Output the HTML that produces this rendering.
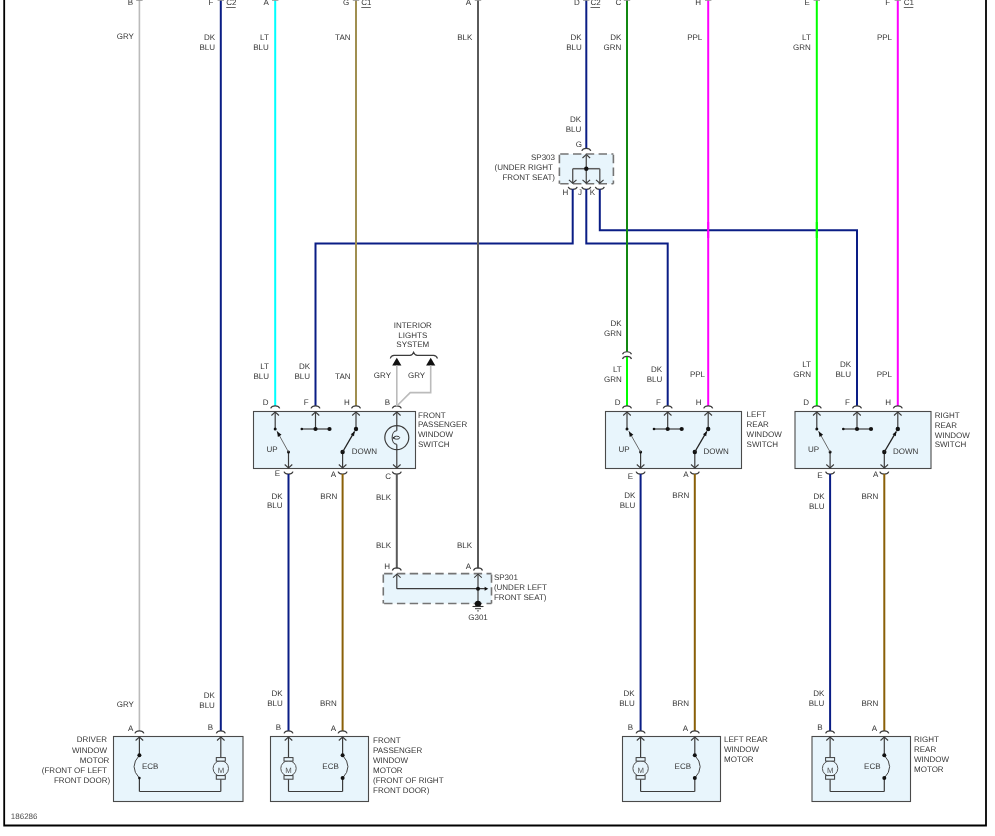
<!DOCTYPE html>
<html><head><meta charset="utf-8"><style>
html,body{margin:0;padding:0;background:#fff;width:995px;height:836px;overflow:hidden}
svg{display:block;will-change:transform}
text{font-family:"Liberation Sans",sans-serif;text-rendering:geometricPrecision}
</style></head><body>
<svg width="995" height="836" viewBox="0 0 995 836" font-family="Liberation Sans, sans-serif">
<rect width="995" height="836" fill="#fff"/>
<path d="M4.2,-2 L4.2,825.5 L986.0,825.5 L986.0,-2" stroke="#000" stroke-width="1.8" fill="none"/>
<path d="M139.4,0.5 L139.4,731" stroke="#bbbbbb" stroke-width="1.6" fill="none"/>
<path d="M220.8,0.5 L220.8,731" stroke="#0a1d85" stroke-width="2" fill="none"/>
<path d="M275.2,0.5 L275.2,406" stroke="#00ffff" stroke-width="2" fill="none"/>
<path d="M356,0.5 L356,406" stroke="#a08f50" stroke-width="2" fill="none"/>
<path d="M478,0.5 L478,568.5" stroke="#5a5a5a" stroke-width="2" fill="none"/>
<path d="M586.3,0.5 L586.3,149" stroke="#0a1d85" stroke-width="2" fill="none"/>
<path d="M627,0.5 L627,351.8" stroke="#118811" stroke-width="2" fill="none"/>
<path d="M627,356.5 L627,406" stroke="#00ff00" stroke-width="2" fill="none"/>
<path d="M708.2,0.5 L708.2,406" stroke="#ff00ff" stroke-width="2" fill="none"/>
<path d="M816.8,0.5 L816.8,406" stroke="#00ff00" stroke-width="2" fill="none"/>
<path d="M897.8,0.5 L897.8,406" stroke="#ff00ff" stroke-width="2" fill="none"/>
<path d="M136.2,0.4 L142.6,0.4" stroke="#707070" stroke-width="0.9" fill="none" opacity="0.75"/>
<path d="M217.6,0.4 L224,0.4" stroke="#707070" stroke-width="0.9" fill="none" opacity="0.75"/>
<path d="M272,0.4 L278.4,0.4" stroke="#707070" stroke-width="0.9" fill="none" opacity="0.75"/>
<path d="M352.8,0.4 L359.2,0.4" stroke="#707070" stroke-width="0.9" fill="none" opacity="0.75"/>
<path d="M474.8,0.4 L481.2,0.4" stroke="#707070" stroke-width="0.9" fill="none" opacity="0.75"/>
<path d="M583.1,0.4 L589.5,0.4" stroke="#707070" stroke-width="0.9" fill="none" opacity="0.75"/>
<path d="M623.8,0.4 L630.2,0.4" stroke="#707070" stroke-width="0.9" fill="none" opacity="0.75"/>
<path d="M705,0.4 L711.4,0.4" stroke="#707070" stroke-width="0.9" fill="none" opacity="0.75"/>
<path d="M813.6,0.4 L820,0.4" stroke="#707070" stroke-width="0.9" fill="none" opacity="0.75"/>
<path d="M894.6,0.4 L901,0.4" stroke="#707070" stroke-width="0.9" fill="none" opacity="0.75"/>
<text x="133" y="4.7" text-anchor="end" font-size="8" fill="#363636">B</text>
<text x="213.5" y="4.7" text-anchor="end" font-size="8" fill="#363636">F</text>
<text x="268.8" y="4.7" text-anchor="end" font-size="8" fill="#363636">A</text>
<text x="349.2" y="4.7" text-anchor="end" font-size="8" fill="#363636">G</text>
<text x="471.1" y="4.7" text-anchor="end" font-size="8" fill="#363636">A</text>
<text x="579.9" y="4.7" text-anchor="end" font-size="8" fill="#363636">D</text>
<text x="621.4" y="4.7" text-anchor="end" font-size="8" fill="#363636">C</text>
<text x="701" y="4.7" text-anchor="end" font-size="8" fill="#363636">H</text>
<text x="809.8" y="4.7" text-anchor="end" font-size="8" fill="#363636">E</text>
<text x="890.2" y="4.7" text-anchor="end" font-size="8" fill="#363636">F</text>
<text x="226.2" y="4.7" text-anchor="start" font-size="8" fill="#363636">C2</text>
<line x1="226.2" y1="7.5" x2="235.7" y2="7.5" stroke="#555" stroke-width="0.9"/>
<text x="361.3" y="4.7" text-anchor="start" font-size="8" fill="#363636">C1</text>
<line x1="361.3" y1="7.5" x2="370.8" y2="7.5" stroke="#555" stroke-width="0.9"/>
<text x="590.5" y="4.7" text-anchor="start" font-size="8" fill="#363636">C2</text>
<line x1="590.5" y1="7.5" x2="600" y2="7.5" stroke="#555" stroke-width="0.9"/>
<text x="903.8" y="4.7" text-anchor="start" font-size="8" fill="#363636">C1</text>
<line x1="903.8" y1="7.5" x2="913.3" y2="7.5" stroke="#555" stroke-width="0.9"/>
<text x="133.9" y="39" text-anchor="end" font-size="8" fill="#363636">GRY</text>
<text x="215" y="40" text-anchor="end" font-size="8" fill="#363636">DK</text>
<text x="215" y="50" text-anchor="end" font-size="8" fill="#363636">BLU</text>
<text x="268.8" y="40" text-anchor="end" font-size="8" fill="#363636">LT</text>
<text x="268.8" y="50" text-anchor="end" font-size="8" fill="#363636">BLU</text>
<text x="350.5" y="40" text-anchor="end" font-size="8" fill="#363636">TAN</text>
<text x="472.4" y="40" text-anchor="end" font-size="8" fill="#363636">BLK</text>
<text x="581.7" y="40" text-anchor="end" font-size="8" fill="#363636">DK</text>
<text x="581.7" y="50" text-anchor="end" font-size="8" fill="#363636">BLU</text>
<text x="621.4" y="40" text-anchor="end" font-size="8" fill="#363636">DK</text>
<text x="621.4" y="50" text-anchor="end" font-size="8" fill="#363636">GRN</text>
<text x="702.3" y="40" text-anchor="end" font-size="8" fill="#363636">PPL</text>
<text x="810.8" y="40" text-anchor="end" font-size="8" fill="#363636">LT</text>
<text x="810.8" y="50" text-anchor="end" font-size="8" fill="#363636">GRN</text>
<text x="892" y="40" text-anchor="end" font-size="8" fill="#363636">PPL</text>
<text x="581.2" y="122.2" text-anchor="end" font-size="8" fill="#363636">DK</text>
<text x="581.2" y="132" text-anchor="end" font-size="8" fill="#363636">BLU</text>
<text x="582" y="146.5" text-anchor="end" font-size="8" fill="#363636">G</text>
<rect x="559.4" y="154" width="54" height="29.8" fill="#e8f5fc"/>
<line x1="559.4" y1="154" x2="613.4" y2="154" stroke="#747474" stroke-width="1.6" stroke-dasharray="8.4,4.4" stroke-dashoffset="-0.8"/>
<line x1="559.4" y1="183.8" x2="613.4" y2="183.8" stroke="#747474" stroke-width="1.6" stroke-dasharray="8.4,4.4" stroke-dashoffset="-0.8"/>
<line x1="559.4" y1="154" x2="559.4" y2="183.8" stroke="#747474" stroke-width="1.6" stroke-dasharray="8.4,4.4" stroke-dashoffset="-0.8"/>
<line x1="613.4" y1="154" x2="613.4" y2="183.8" stroke="#747474" stroke-width="1.6" stroke-dasharray="8.4,4.4" stroke-dashoffset="-0.8"/>
<path d="M581.8,150.9 C582.9,147.5 589.7,147.5 590.8,150.9" stroke="#3c3c3c" stroke-width="1.2" fill="none"/>
<path d="M582.5,158 L586.3,154.6 L590.1,158" stroke="#3c3c3c" stroke-width="1.1" fill="none"/>
<line x1="586.3" y1="154.6" x2="586.3" y2="168.7" stroke="#5c5c5c" stroke-width="1.4"/>
<line x1="572.7" y1="168.7" x2="599.8" y2="168.7" stroke="#5c5c5c" stroke-width="1.5"/>
<line x1="572.7" y1="168.7" x2="572.7" y2="183.2" stroke="#5c5c5c" stroke-width="1.4"/>
<line x1="599.8" y1="168.7" x2="599.8" y2="183.2" stroke="#5c5c5c" stroke-width="1.4"/>
<line x1="586.3" y1="168.7" x2="586.3" y2="183.2" stroke="#5c5c5c" stroke-width="1.4"/>
<circle cx="586.3" cy="168.7" r="2.2" fill="#111"/>
<path d="M568.9,179.8 L572.7,183.2 L576.5,179.8" stroke="#3c3c3c" stroke-width="1.1" fill="none"/>
<path d="M568.2,186.9 C569.3,190.3 576.1,190.3 577.2,186.9" stroke="#3c3c3c" stroke-width="1.2" fill="none"/>
<path d="M582.5,179.8 L586.3,183.2 L590.1,179.8" stroke="#3c3c3c" stroke-width="1.1" fill="none"/>
<path d="M581.8,186.9 C582.9,190.3 589.7,190.3 590.8,186.9" stroke="#3c3c3c" stroke-width="1.2" fill="none"/>
<path d="M596,179.8 L599.8,183.2 L603.6,179.8" stroke="#3c3c3c" stroke-width="1.1" fill="none"/>
<path d="M595.3,186.9 C596.4,190.3 603.2,190.3 604.3,186.9" stroke="#3c3c3c" stroke-width="1.2" fill="none"/>
<text x="555" y="160" text-anchor="end" font-size="8" fill="#363636">SP303</text>
<text x="552.8" y="170" text-anchor="end" font-size="8" fill="#363636">(UNDER RIGHT</text>
<text x="555" y="180" text-anchor="end" font-size="8" fill="#363636">FRONT SEAT)</text>
<text x="568.2" y="195" text-anchor="end" font-size="8" fill="#363636">H</text>
<text x="582" y="195.3" text-anchor="end" font-size="8" fill="#363636">J</text>
<text x="595.2" y="194.7" text-anchor="end" font-size="8" fill="#363636">K</text>
<path d="M572.7,189.3 L572.7,243.5 L315.5,243.5 L315.5,406" stroke="#0a1d85" stroke-width="2" fill="none"/>
<path d="M586.3,189.3 L586.3,243.5 L667.7,243.5 L667.7,406" stroke="#0a1d85" stroke-width="2" fill="none"/>
<path d="M599.8,189.3 L599.8,230.2 L857,230.2 L857,406" stroke="#0a1d85" stroke-width="2" fill="none"/>
<path d="M356,236 L356,251" stroke="#a08f50" stroke-width="2" fill="none"/>
<path d="M478,236 L478,251" stroke="#5a5a5a" stroke-width="2" fill="none"/>
<path d="M627,222 L627,251" stroke="#118811" stroke-width="2" fill="none"/>
<path d="M708.2,222 L708.2,238" stroke="#ff00ff" stroke-width="2" fill="none"/>
<path d="M816.8,222 L816.8,238" stroke="#00ff00" stroke-width="2" fill="none"/>
<path d="M622.5,354.3 C623.6,350.9 630.4,350.9 631.5,354.3" stroke="#3c3c3c" stroke-width="1.2" fill="none"/>
<path d="M622.5,359 C623.6,355.6 630.4,355.6 631.5,359" stroke="#3c3c3c" stroke-width="1.2" fill="none"/>
<text x="621.7" y="326" text-anchor="end" font-size="8" fill="#363636">DK</text>
<text x="621.7" y="335.8" text-anchor="end" font-size="8" fill="#363636">GRN</text>
<rect x="253.5" y="411.5" width="162" height="57" fill="#e8f5fc" stroke="#4a4a4a" stroke-width="1.1"/>
<path d="M270.7,408.4 C271.8,405 278.6,405 279.7,408.4" stroke="#3c3c3c" stroke-width="1.2" fill="none"/>
<path d="M271.4,415.5 L275.2,412.1 L279,415.5" stroke="#3c3c3c" stroke-width="1.1" fill="none"/>
<path d="M311,408.4 C312.1,405 318.9,405 320,408.4" stroke="#3c3c3c" stroke-width="1.2" fill="none"/>
<path d="M311.7,415.5 L315.5,412.1 L319.3,415.5" stroke="#3c3c3c" stroke-width="1.1" fill="none"/>
<path d="M351.5,408.4 C352.6,405 359.4,405 360.5,408.4" stroke="#3c3c3c" stroke-width="1.2" fill="none"/>
<path d="M352.2,415.5 L356,412.1 L359.8,415.5" stroke="#3c3c3c" stroke-width="1.1" fill="none"/>
<path d="M392.3,408.4 C393.4,405 400.2,405 401.3,408.4" stroke="#3c3c3c" stroke-width="1.2" fill="none"/>
<path d="M393,415.5 L396.8,412.1 L400.6,415.5" stroke="#3c3c3c" stroke-width="1.1" fill="none"/>
<path d="M284,471.6 C285.1,475 291.9,475 293,471.6" stroke="#3c3c3c" stroke-width="1.2" fill="none"/>
<path d="M284.7,464.5 L288.5,467.9 L292.3,464.5" stroke="#3c3c3c" stroke-width="1.1" fill="none"/>
<path d="M338.1,471.6 C339.2,475 346,475 347.1,471.6" stroke="#3c3c3c" stroke-width="1.2" fill="none"/>
<path d="M338.8,464.5 L342.6,467.9 L346.4,464.5" stroke="#3c3c3c" stroke-width="1.1" fill="none"/>
<path d="M392.3,471.6 C393.4,475 400.2,475 401.3,471.6" stroke="#3c3c3c" stroke-width="1.2" fill="none"/>
<path d="M393,464.5 L396.8,467.9 L400.6,464.5" stroke="#3c3c3c" stroke-width="1.1" fill="none"/>
<line x1="275.2" y1="412.1" x2="275.2" y2="429" stroke="#3c3c3c" stroke-width="1.2"/>
<circle cx="275.2" cy="429" r="1.5" fill="#111"/>
<line x1="288.5" y1="452" x2="288.5" y2="467.9" stroke="#3c3c3c" stroke-width="1.2"/>
<circle cx="288.5" cy="452" r="1.5" fill="#111"/>
<line x1="288.5" y1="452" x2="277" y2="431.25" stroke="#5a5a5a" stroke-width="0.9"/>
<path d="M277,431.25 L281.52,434.87 L277.89,436.98 Z" fill="#111"/>
<line x1="315.5" y1="412.1" x2="315.5" y2="429" stroke="#3c3c3c" stroke-width="1.2"/>
<line x1="301.8" y1="429" x2="329.5" y2="429" stroke="#3c3c3c" stroke-width="1.2"/>
<circle cx="301.8" cy="429" r="1.3" fill="#111"/>
<circle cx="315.5" cy="429" r="2.1" fill="#111"/>
<circle cx="329.5" cy="429" r="2.1" fill="#111"/>
<line x1="356" y1="412.1" x2="356" y2="429" stroke="#3c3c3c" stroke-width="1.2"/>
<circle cx="356" cy="429" r="2.2" fill="#111"/>
<line x1="342.6" y1="452" x2="342.6" y2="467.9" stroke="#3c3c3c" stroke-width="1.2"/>
<circle cx="342.6" cy="452" r="2.2" fill="#111"/>
<line x1="342.6" y1="452" x2="354.59" y2="431.42" stroke="#222" stroke-width="1.3"/>
<path d="M354.59,431.42 L354.02,436.18 L350.73,434.26 Z" fill="#111"/>
<rect x="605.5" y="411.5" width="136" height="57" fill="#e8f5fc" stroke="#4a4a4a" stroke-width="1.1"/>
<path d="M622.5,408.4 C623.6,405 630.4,405 631.5,408.4" stroke="#3c3c3c" stroke-width="1.2" fill="none"/>
<path d="M623.2,415.5 L627,412.1 L630.8,415.5" stroke="#3c3c3c" stroke-width="1.1" fill="none"/>
<path d="M663.2,408.4 C664.3,405 671.1,405 672.2,408.4" stroke="#3c3c3c" stroke-width="1.2" fill="none"/>
<path d="M663.9,415.5 L667.7,412.1 L671.5,415.5" stroke="#3c3c3c" stroke-width="1.1" fill="none"/>
<path d="M703.7,408.4 C704.8,405 711.6,405 712.7,408.4" stroke="#3c3c3c" stroke-width="1.2" fill="none"/>
<path d="M704.4,415.5 L708.2,412.1 L712,415.5" stroke="#3c3c3c" stroke-width="1.1" fill="none"/>
<path d="M636.1,471.6 C637.2,475 644,475 645.1,471.6" stroke="#3c3c3c" stroke-width="1.2" fill="none"/>
<path d="M636.8,464.5 L640.6,467.9 L644.4,464.5" stroke="#3c3c3c" stroke-width="1.1" fill="none"/>
<path d="M690.3,471.6 C691.4,475 698.2,475 699.3,471.6" stroke="#3c3c3c" stroke-width="1.2" fill="none"/>
<path d="M691,464.5 L694.8,467.9 L698.6,464.5" stroke="#3c3c3c" stroke-width="1.1" fill="none"/>
<line x1="627" y1="412.1" x2="627" y2="429" stroke="#3c3c3c" stroke-width="1.2"/>
<circle cx="627" cy="429" r="1.5" fill="#111"/>
<line x1="640.6" y1="452" x2="640.6" y2="467.9" stroke="#3c3c3c" stroke-width="1.2"/>
<circle cx="640.6" cy="452" r="1.5" fill="#111"/>
<line x1="640.6" y1="452" x2="628.82" y2="431.24" stroke="#5a5a5a" stroke-width="0.9"/>
<path d="M628.82,431.24 L633.38,434.82 L629.76,436.96 Z" fill="#111"/>
<line x1="667.7" y1="412.1" x2="667.7" y2="429" stroke="#3c3c3c" stroke-width="1.2"/>
<line x1="654" y1="429" x2="681.7" y2="429" stroke="#3c3c3c" stroke-width="1.2"/>
<circle cx="654" cy="429" r="1.3" fill="#111"/>
<circle cx="667.7" cy="429" r="2.1" fill="#111"/>
<circle cx="681.7" cy="429" r="2.1" fill="#111"/>
<line x1="708.2" y1="412.1" x2="708.2" y2="429" stroke="#3c3c3c" stroke-width="1.2"/>
<circle cx="708.2" cy="429" r="2.2" fill="#111"/>
<line x1="694.8" y1="452" x2="694.8" y2="467.9" stroke="#3c3c3c" stroke-width="1.2"/>
<circle cx="694.8" cy="452" r="2.2" fill="#111"/>
<line x1="694.8" y1="452" x2="706.79" y2="431.42" stroke="#222" stroke-width="1.3"/>
<path d="M706.79,431.42 L706.22,436.18 L702.93,434.26 Z" fill="#111"/>
<rect x="795" y="411.5" width="136" height="57" fill="#e8f5fc" stroke="#4a4a4a" stroke-width="1.1"/>
<path d="M812.3,408.4 C813.4,405 820.2,405 821.3,408.4" stroke="#3c3c3c" stroke-width="1.2" fill="none"/>
<path d="M813,415.5 L816.8,412.1 L820.6,415.5" stroke="#3c3c3c" stroke-width="1.1" fill="none"/>
<path d="M852.5,408.4 C853.6,405 860.4,405 861.5,408.4" stroke="#3c3c3c" stroke-width="1.2" fill="none"/>
<path d="M853.2,415.5 L857,412.1 L860.8,415.5" stroke="#3c3c3c" stroke-width="1.1" fill="none"/>
<path d="M893.3,408.4 C894.4,405 901.2,405 902.3,408.4" stroke="#3c3c3c" stroke-width="1.2" fill="none"/>
<path d="M894,415.5 L897.8,412.1 L901.6,415.5" stroke="#3c3c3c" stroke-width="1.1" fill="none"/>
<path d="M825.6,471.6 C826.7,475 833.5,475 834.6,471.6" stroke="#3c3c3c" stroke-width="1.2" fill="none"/>
<path d="M826.3,464.5 L830.1,467.9 L833.9,464.5" stroke="#3c3c3c" stroke-width="1.1" fill="none"/>
<path d="M879.8,471.6 C880.9,475 887.7,475 888.8,471.6" stroke="#3c3c3c" stroke-width="1.2" fill="none"/>
<path d="M880.5,464.5 L884.3,467.9 L888.1,464.5" stroke="#3c3c3c" stroke-width="1.1" fill="none"/>
<line x1="816.8" y1="412.1" x2="816.8" y2="429" stroke="#3c3c3c" stroke-width="1.2"/>
<circle cx="816.8" cy="429" r="1.5" fill="#111"/>
<line x1="830.1" y1="452" x2="830.1" y2="467.9" stroke="#3c3c3c" stroke-width="1.2"/>
<circle cx="830.1" cy="452" r="1.5" fill="#111"/>
<line x1="830.1" y1="452" x2="818.6" y2="431.25" stroke="#5a5a5a" stroke-width="0.9"/>
<path d="M818.6,431.25 L823.12,434.87 L819.49,436.98 Z" fill="#111"/>
<line x1="857" y1="412.1" x2="857" y2="429" stroke="#3c3c3c" stroke-width="1.2"/>
<line x1="843.3" y1="429" x2="871" y2="429" stroke="#3c3c3c" stroke-width="1.2"/>
<circle cx="843.3" cy="429" r="1.3" fill="#111"/>
<circle cx="857" cy="429" r="2.1" fill="#111"/>
<circle cx="871" cy="429" r="2.1" fill="#111"/>
<line x1="897.8" y1="412.1" x2="897.8" y2="429" stroke="#3c3c3c" stroke-width="1.2"/>
<circle cx="897.8" cy="429" r="2.2" fill="#111"/>
<line x1="884.3" y1="452" x2="884.3" y2="467.9" stroke="#3c3c3c" stroke-width="1.2"/>
<circle cx="884.3" cy="452" r="2.2" fill="#111"/>
<line x1="884.3" y1="452" x2="896.38" y2="431.41" stroke="#222" stroke-width="1.3"/>
<path d="M896.38,431.41 L895.79,436.17 L892.52,434.25 Z" fill="#111"/>
<line x1="396.8" y1="412" x2="396.8" y2="430.8" stroke="#3c3c3c" stroke-width="1.2"/>
<line x1="396.8" y1="444.4" x2="396.8" y2="467.4" stroke="#3c3c3c" stroke-width="1.2"/>
<circle cx="396.8" cy="437.6" r="12" fill="none" stroke="#3c3c3c" stroke-width="1.2"/>
<path d="M396.8,430.8 C390.6,430.8 390.6,444.4 396.8,444.4" stroke="#3c3c3c" stroke-width="1.1" fill="none"/>
<ellipse cx="396.7" cy="437.7" rx="3.0" ry="1.5" fill="none" stroke="#3c3c3c" stroke-width="1"/>
<circle cx="393.8" cy="437.8" r="0.9" fill="#111"/>
<text x="269" y="369" text-anchor="end" font-size="8" fill="#363636">LT</text>
<text x="269" y="379" text-anchor="end" font-size="8" fill="#363636">BLU</text>
<text x="310" y="369" text-anchor="end" font-size="8" fill="#363636">DK</text>
<text x="310" y="379" text-anchor="end" font-size="8" fill="#363636">BLU</text>
<text x="350.5" y="379" text-anchor="end" font-size="8" fill="#363636">TAN</text>
<text x="391" y="378" text-anchor="end" font-size="8" fill="#363636">GRY</text>
<text x="408" y="378" text-anchor="start" font-size="8" fill="#363636">GRY</text>
<text x="268.5" y="405" text-anchor="end" font-size="8" fill="#363636">D</text>
<text x="308.7" y="405" text-anchor="end" font-size="8" fill="#363636">F</text>
<text x="349.7" y="405" text-anchor="end" font-size="8" fill="#363636">H</text>
<text x="390" y="405" text-anchor="end" font-size="8" fill="#363636">B</text>
<text x="418" y="417.8" text-anchor="start" font-size="8" fill="#363636">FRONT</text>
<text x="418" y="427" text-anchor="start" font-size="8" fill="#363636">PASSENGER</text>
<text x="418" y="436.8" text-anchor="start" font-size="8" fill="#363636">WINDOW</text>
<text x="418" y="446.5" text-anchor="start" font-size="8" fill="#363636">SWITCH</text>
<text x="266.5" y="451.7" text-anchor="start" font-size="8" fill="#363636">UP</text>
<text x="351.7" y="453.6" text-anchor="start" font-size="8" fill="#363636">DOWN</text>
<text x="280" y="476" text-anchor="end" font-size="8" fill="#363636">E</text>
<text x="336.1" y="477" text-anchor="end" font-size="8" fill="#363636">A</text>
<text x="391" y="478.8" text-anchor="end" font-size="8" fill="#363636">C</text>
<text x="412.8" y="327.7" text-anchor="middle" font-size="8" fill="#363636">INTERIOR</text>
<text x="412.8" y="337.6" text-anchor="middle" font-size="8" fill="#363636">LIGHTS</text>
<text x="412.8" y="347" text-anchor="middle" font-size="8" fill="#363636">SYSTEM</text>
<path d="M390.3,358.5 Q391,355.5 394,355.4 L410,355.4 Q412.5,355.2 413.6,352.2 Q414.8,355.2 417.2,355.4 L433.5,355.4 Q436.5,355.5 437.5,358.5" stroke="#3c3c3c" stroke-width="1.1" fill="none"/>
<path d="M396.8,357.8 L392.2,365.6 L401.4,365.6 Z" fill="#111"/>
<path d="M430.7,357.8 L426.1,365.6 L435.3,365.6 Z" fill="#111"/>
<path d="M396.8,365.3 L396.8,406" stroke="#bbbbbb" stroke-width="1.6" fill="none"/>
<path d="M430.7,365.3 L430.7,392.6 L410.2,392.6 L397.6,405.3" stroke="#bbbbbb" stroke-width="1.6" fill="none"/>
<text x="621.7" y="372" text-anchor="end" font-size="8" fill="#363636">LT</text>
<text x="621.7" y="381.8" text-anchor="end" font-size="8" fill="#363636">GRN</text>
<text x="662.2" y="372" text-anchor="end" font-size="8" fill="#363636">DK</text>
<text x="662.2" y="381.8" text-anchor="end" font-size="8" fill="#363636">BLU</text>
<text x="705" y="377" text-anchor="end" font-size="8" fill="#363636">PPL</text>
<text x="620.5" y="405" text-anchor="end" font-size="8" fill="#363636">D</text>
<text x="661" y="405" text-anchor="end" font-size="8" fill="#363636">F</text>
<text x="701.5" y="405" text-anchor="end" font-size="8" fill="#363636">H</text>
<text x="746.6" y="417" text-anchor="start" font-size="8" fill="#363636">LEFT</text>
<text x="746.6" y="427" text-anchor="start" font-size="8" fill="#363636">REAR</text>
<text x="746.6" y="436.8" text-anchor="start" font-size="8" fill="#363636">WINDOW</text>
<text x="746.6" y="446.5" text-anchor="start" font-size="8" fill="#363636">SWITCH</text>
<text x="618.5" y="451.5" text-anchor="start" font-size="8" fill="#363636">UP</text>
<text x="703.5" y="454" text-anchor="start" font-size="8" fill="#363636">DOWN</text>
<text x="633.1" y="478.7" text-anchor="end" font-size="8" fill="#363636">E</text>
<text x="688.7" y="476.5" text-anchor="end" font-size="8" fill="#363636">A</text>
<text x="811" y="367" text-anchor="end" font-size="8" fill="#363636">LT</text>
<text x="811" y="377" text-anchor="end" font-size="8" fill="#363636">GRN</text>
<text x="851.1" y="367" text-anchor="end" font-size="8" fill="#363636">DK</text>
<text x="851.1" y="377" text-anchor="end" font-size="8" fill="#363636">BLU</text>
<text x="891.9" y="377" text-anchor="end" font-size="8" fill="#363636">PPL</text>
<text x="809" y="405" text-anchor="end" font-size="8" fill="#363636">D</text>
<text x="850" y="405" text-anchor="end" font-size="8" fill="#363636">F</text>
<text x="891" y="405" text-anchor="end" font-size="8" fill="#363636">H</text>
<text x="934.7" y="417.8" text-anchor="start" font-size="8" fill="#363636">RIGHT</text>
<text x="934.7" y="427.8" text-anchor="start" font-size="8" fill="#363636">REAR</text>
<text x="934.7" y="437.8" text-anchor="start" font-size="8" fill="#363636">WINDOW</text>
<text x="934.7" y="446.8" text-anchor="start" font-size="8" fill="#363636">SWITCH</text>
<text x="808" y="451.5" text-anchor="start" font-size="8" fill="#363636">UP</text>
<text x="893" y="454" text-anchor="start" font-size="8" fill="#363636">DOWN</text>
<text x="822.7" y="477.5" text-anchor="end" font-size="8" fill="#363636">E</text>
<text x="878.3" y="476.5" text-anchor="end" font-size="8" fill="#363636">A</text>
<path d="M288.5,474 L288.5,731" stroke="#0a1d85" stroke-width="2" fill="none"/>
<path d="M342.6,474 L342.6,731" stroke="#8a6008" stroke-width="2" fill="none"/>
<path d="M396.8,474 L396.8,568.5" stroke="#5a5a5a" stroke-width="2" fill="none"/>
<path d="M640.6,474 L640.6,731" stroke="#0a1d85" stroke-width="2" fill="none"/>
<path d="M694.8,474 L694.8,731" stroke="#8a6008" stroke-width="2" fill="none"/>
<path d="M830.1,474 L830.1,731" stroke="#0a1d85" stroke-width="2" fill="none"/>
<path d="M884.3,474 L884.3,731" stroke="#8a6008" stroke-width="2" fill="none"/>
<text x="282.6" y="498.5" text-anchor="end" font-size="8" fill="#363636">DK</text>
<text x="282.6" y="508" text-anchor="end" font-size="8" fill="#363636">BLU</text>
<text x="337.2" y="498.5" text-anchor="end" font-size="8" fill="#363636">BRN</text>
<text x="391" y="499.5" text-anchor="end" font-size="8" fill="#363636">BLK</text>
<text x="391" y="548" text-anchor="end" font-size="8" fill="#363636">BLK</text>
<text x="472" y="548" text-anchor="end" font-size="8" fill="#363636">BLK</text>
<text x="635.3" y="498.3" text-anchor="end" font-size="8" fill="#363636">DK</text>
<text x="635.3" y="508.2" text-anchor="end" font-size="8" fill="#363636">BLU</text>
<text x="689.2" y="498.3" text-anchor="end" font-size="8" fill="#363636">BRN</text>
<text x="824.6" y="499.2" text-anchor="end" font-size="8" fill="#363636">DK</text>
<text x="824.6" y="509.1" text-anchor="end" font-size="8" fill="#363636">BLU</text>
<text x="878.3" y="499.2" text-anchor="end" font-size="8" fill="#363636">BRN</text>
<rect x="383.3" y="573.6" width="108.2" height="29.9" fill="#e8f5fc"/>
<line x1="383.3" y1="573.6" x2="491.5" y2="573.6" stroke="#747474" stroke-width="1.6" stroke-dasharray="8.4,4.4" stroke-dashoffset="-0.8"/>
<line x1="383.3" y1="603.5" x2="491.5" y2="603.5" stroke="#747474" stroke-width="1.6" stroke-dasharray="8.4,4.4" stroke-dashoffset="-0.8"/>
<line x1="383.3" y1="573.6" x2="383.3" y2="603.5" stroke="#747474" stroke-width="1.6" stroke-dasharray="8.4,4.4" stroke-dashoffset="-0.8"/>
<line x1="491.5" y1="573.6" x2="491.5" y2="603.5" stroke="#747474" stroke-width="1.6" stroke-dasharray="8.4,4.4" stroke-dashoffset="-0.8"/>
<path d="M392.3,570.5 C393.4,567.1 400.2,567.1 401.3,570.5" stroke="#3c3c3c" stroke-width="1.2" fill="none"/>
<path d="M393,577.6 L396.8,574.2 L400.6,577.6" stroke="#3c3c3c" stroke-width="1.1" fill="none"/>
<path d="M473.5,570.5 C474.6,567.1 481.4,567.1 482.5,570.5" stroke="#3c3c3c" stroke-width="1.2" fill="none"/>
<path d="M474.2,577.6 L478,574.2 L481.8,577.6" stroke="#3c3c3c" stroke-width="1.1" fill="none"/>
<line x1="396.8" y1="574.2" x2="396.8" y2="588.7" stroke="#3c3c3c" stroke-width="1.2"/>
<line x1="396.8" y1="588.7" x2="485.5" y2="588.7" stroke="#3c3c3c" stroke-width="1.2"/>
<path d="M488.3,588.7 L484.6,586.7 L484.6,590.7 Z" fill="#111"/>
<line x1="478" y1="574.2" x2="478" y2="604" stroke="#3c3c3c" stroke-width="1.2"/>
<circle cx="478" cy="588.7" r="2" fill="#111"/>
<circle cx="478" cy="603.9" r="3.1" fill="#111"/>
<line x1="472.5" y1="606.5" x2="483.5" y2="606.5" stroke="#333" stroke-width="1.1"/>
<line x1="475" y1="608.7" x2="481" y2="608.7" stroke="#333" stroke-width="1"/>
<line x1="477.2" y1="610.9" x2="478.8" y2="610.9" stroke="#333" stroke-width="1"/>
<text x="390" y="569" text-anchor="end" font-size="8" fill="#363636">H</text>
<text x="471" y="568.5" text-anchor="end" font-size="8" fill="#363636">A</text>
<text x="478" y="619.5" text-anchor="middle" font-size="8" fill="#363636">G301</text>
<text x="493.9" y="579.7" text-anchor="start" font-size="8" fill="#363636">SP301</text>
<text x="493.9" y="589.9" text-anchor="start" font-size="8" fill="#363636">(UNDER LEFT</text>
<text x="493.9" y="599.7" text-anchor="start" font-size="8" fill="#363636">FRONT SEAT)</text>
<rect x="113.5" y="736.5" width="129.5" height="65" fill="#e8f5fc" stroke="#4a4a4a" stroke-width="1.1"/>
<path d="M134.9,733.4 C136,730 142.8,730 143.9,733.4" stroke="#3c3c3c" stroke-width="1.2" fill="none"/>
<path d="M135.6,740.5 L139.4,737.1 L143.2,740.5" stroke="#3c3c3c" stroke-width="1.1" fill="none"/>
<path d="M216.3,733.4 C217.4,730 224.2,730 225.3,733.4" stroke="#3c3c3c" stroke-width="1.2" fill="none"/>
<path d="M217,740.5 L220.8,737.1 L224.6,740.5" stroke="#3c3c3c" stroke-width="1.1" fill="none"/>
<line x1="139.4" y1="737.1" x2="139.4" y2="755.3" stroke="#3c3c3c" stroke-width="1.2"/>
<line x1="139.4" y1="778.1" x2="139.4" y2="791.5" stroke="#3c3c3c" stroke-width="1.2"/>
<path d="M139.4,755.3 Q128.7,766.7 139.4,778.1" stroke="#444" stroke-width="1.0" fill="none"/>
<circle cx="139.4" cy="755.3" r="2" fill="#111"/>
<circle cx="139.4" cy="778.1" r="1.3" fill="#111"/>
<text x="150.2" y="769" text-anchor="middle" font-size="8" fill="#363636">ECB</text>
<line x1="220.8" y1="737.1" x2="220.8" y2="757.4" stroke="#3c3c3c" stroke-width="1.2"/>
<line x1="220.8" y1="779.2" x2="220.8" y2="791.5" stroke="#3c3c3c" stroke-width="1.2"/>
<circle cx="220.8" cy="768.4" r="7.7" fill="none" stroke="#555" stroke-width="1"/>
<rect x="216.3" y="757.6" width="9.0" height="3.5" fill="#e8f5fc" stroke="#3c3c3c" stroke-width="1"/>
<rect x="216.3" y="775.6" width="9.0" height="3.6" fill="#e8f5fc" stroke="#3c3c3c" stroke-width="1"/>
<text x="220.9" y="772.7" text-anchor="middle" font-size="7.8" fill="#555">M</text>
<line x1="139.4" y1="791.5" x2="220.8" y2="791.5" stroke="#3c3c3c" stroke-width="1.2"/>
<text x="133.9" y="707.2" text-anchor="end" font-size="8" fill="#363636">GRY</text>
<text x="214.9" y="698.1" text-anchor="end" font-size="8" fill="#363636">DK</text>
<text x="214.9" y="708.1" text-anchor="end" font-size="8" fill="#363636">BLU</text>
<text x="133.3" y="730.7" text-anchor="end" font-size="8" fill="#363636">A</text>
<text x="213.2" y="729.8" text-anchor="end" font-size="8" fill="#363636">B</text>
<text x="107" y="742" text-anchor="end" font-size="8" fill="#363636">DRIVER</text>
<text x="107" y="752.7" text-anchor="end" font-size="8" fill="#363636">WINDOW</text>
<text x="109.4" y="763" text-anchor="end" font-size="8" fill="#363636">MOTOR</text>
<text x="107" y="773" text-anchor="end" font-size="8" fill="#363636">(FRONT OF LEFT</text>
<text x="110.2" y="783" text-anchor="end" font-size="8" fill="#363636">FRONT DOOR)</text>
<rect x="270.5" y="736.5" width="98" height="65" fill="#e8f5fc" stroke="#4a4a4a" stroke-width="1.1"/>
<path d="M338.1,733.4 C339.2,730 346,730 347.1,733.4" stroke="#3c3c3c" stroke-width="1.2" fill="none"/>
<path d="M338.8,740.5 L342.6,737.1 L346.4,740.5" stroke="#3c3c3c" stroke-width="1.1" fill="none"/>
<path d="M284,733.4 C285.1,730 291.9,730 293,733.4" stroke="#3c3c3c" stroke-width="1.2" fill="none"/>
<path d="M284.7,740.5 L288.5,737.1 L292.3,740.5" stroke="#3c3c3c" stroke-width="1.1" fill="none"/>
<line x1="288.5" y1="737.1" x2="288.5" y2="757.4" stroke="#3c3c3c" stroke-width="1.2"/>
<line x1="288.5" y1="779.2" x2="288.5" y2="791.5" stroke="#3c3c3c" stroke-width="1.2"/>
<circle cx="288.5" cy="768.4" r="7.7" fill="none" stroke="#555" stroke-width="1"/>
<rect x="284" y="757.6" width="9.0" height="3.5" fill="#e8f5fc" stroke="#3c3c3c" stroke-width="1"/>
<rect x="284" y="775.6" width="9.0" height="3.6" fill="#e8f5fc" stroke="#3c3c3c" stroke-width="1"/>
<text x="288.6" y="772.7" text-anchor="middle" font-size="7.8" fill="#555">M</text>
<line x1="342.6" y1="737.1" x2="342.6" y2="755.3" stroke="#3c3c3c" stroke-width="1.2"/>
<line x1="342.6" y1="778.1" x2="342.6" y2="791.5" stroke="#3c3c3c" stroke-width="1.2"/>
<path d="M342.6,755.3 Q353.3,766.7 342.6,778.1" stroke="#444" stroke-width="1.0" fill="none"/>
<circle cx="342.6" cy="755.3" r="2" fill="#111"/>
<circle cx="342.6" cy="778.1" r="2" fill="#111"/>
<text x="330.6" y="769" text-anchor="middle" font-size="8" fill="#363636">ECB</text>
<line x1="288.5" y1="791.5" x2="342.6" y2="791.5" stroke="#3c3c3c" stroke-width="1.2"/>
<text x="282.7" y="696" text-anchor="end" font-size="8" fill="#363636">DK</text>
<text x="282.7" y="706" text-anchor="end" font-size="8" fill="#363636">BLU</text>
<text x="336.8" y="706" text-anchor="end" font-size="8" fill="#363636">BRN</text>
<text x="281" y="730" text-anchor="end" font-size="8" fill="#363636">B</text>
<text x="336" y="731" text-anchor="end" font-size="8" fill="#363636">A</text>
<text x="373" y="743" text-anchor="start" font-size="8" fill="#363636">FRONT</text>
<text x="373" y="752.95" text-anchor="start" font-size="8" fill="#363636">PASSENGER</text>
<text x="373" y="762.9" text-anchor="start" font-size="8" fill="#363636">WINDOW</text>
<text x="373" y="772.85" text-anchor="start" font-size="8" fill="#363636">MOTOR</text>
<text x="373" y="782.8" text-anchor="start" font-size="8" fill="#363636">(FRONT OF RIGHT</text>
<text x="373" y="792.75" text-anchor="start" font-size="8" fill="#363636">FRONT DOOR)</text>
<rect x="622.5" y="736.5" width="98" height="65" fill="#e8f5fc" stroke="#4a4a4a" stroke-width="1.1"/>
<path d="M690.3,733.4 C691.4,730 698.2,730 699.3,733.4" stroke="#3c3c3c" stroke-width="1.2" fill="none"/>
<path d="M691,740.5 L694.8,737.1 L698.6,740.5" stroke="#3c3c3c" stroke-width="1.1" fill="none"/>
<path d="M636.1,733.4 C637.2,730 644,730 645.1,733.4" stroke="#3c3c3c" stroke-width="1.2" fill="none"/>
<path d="M636.8,740.5 L640.6,737.1 L644.4,740.5" stroke="#3c3c3c" stroke-width="1.1" fill="none"/>
<line x1="640.6" y1="737.1" x2="640.6" y2="757.4" stroke="#3c3c3c" stroke-width="1.2"/>
<line x1="640.6" y1="779.2" x2="640.6" y2="791.5" stroke="#3c3c3c" stroke-width="1.2"/>
<circle cx="640.6" cy="768.4" r="7.7" fill="none" stroke="#555" stroke-width="1"/>
<rect x="636.1" y="757.6" width="9.0" height="3.5" fill="#e8f5fc" stroke="#3c3c3c" stroke-width="1"/>
<rect x="636.1" y="775.6" width="9.0" height="3.6" fill="#e8f5fc" stroke="#3c3c3c" stroke-width="1"/>
<text x="640.7" y="772.7" text-anchor="middle" font-size="7.8" fill="#555">M</text>
<line x1="694.8" y1="737.1" x2="694.8" y2="755.3" stroke="#3c3c3c" stroke-width="1.2"/>
<line x1="694.8" y1="778.1" x2="694.8" y2="791.5" stroke="#3c3c3c" stroke-width="1.2"/>
<path d="M694.8,755.3 Q705.5,766.7 694.8,778.1" stroke="#444" stroke-width="1.0" fill="none"/>
<circle cx="694.8" cy="755.3" r="2" fill="#111"/>
<circle cx="694.8" cy="778.1" r="2" fill="#111"/>
<text x="682.8" y="769" text-anchor="middle" font-size="8" fill="#363636">ECB</text>
<line x1="640.6" y1="791.5" x2="694.8" y2="791.5" stroke="#3c3c3c" stroke-width="1.2"/>
<text x="634.7" y="696" text-anchor="end" font-size="8" fill="#363636">DK</text>
<text x="634.7" y="706" text-anchor="end" font-size="8" fill="#363636">BLU</text>
<text x="689.1" y="706" text-anchor="end" font-size="8" fill="#363636">BRN</text>
<text x="633" y="730" text-anchor="end" font-size="8" fill="#363636">B</text>
<text x="688" y="731" text-anchor="end" font-size="8" fill="#363636">A</text>
<text x="724" y="742" text-anchor="start" font-size="8" fill="#363636">LEFT REAR</text>
<text x="724" y="751.95" text-anchor="start" font-size="8" fill="#363636">WINDOW</text>
<text x="724" y="761.9" text-anchor="start" font-size="8" fill="#363636">MOTOR</text>
<rect x="812" y="736.5" width="98.5" height="65" fill="#e8f5fc" stroke="#4a4a4a" stroke-width="1.1"/>
<path d="M879.8,733.4 C880.9,730 887.7,730 888.8,733.4" stroke="#3c3c3c" stroke-width="1.2" fill="none"/>
<path d="M880.5,740.5 L884.3,737.1 L888.1,740.5" stroke="#3c3c3c" stroke-width="1.1" fill="none"/>
<path d="M825.6,733.4 C826.7,730 833.5,730 834.6,733.4" stroke="#3c3c3c" stroke-width="1.2" fill="none"/>
<path d="M826.3,740.5 L830.1,737.1 L833.9,740.5" stroke="#3c3c3c" stroke-width="1.1" fill="none"/>
<line x1="830.1" y1="737.1" x2="830.1" y2="757.4" stroke="#3c3c3c" stroke-width="1.2"/>
<line x1="830.1" y1="779.2" x2="830.1" y2="791.5" stroke="#3c3c3c" stroke-width="1.2"/>
<circle cx="830.1" cy="768.4" r="7.7" fill="none" stroke="#555" stroke-width="1"/>
<rect x="825.6" y="757.6" width="9.0" height="3.5" fill="#e8f5fc" stroke="#3c3c3c" stroke-width="1"/>
<rect x="825.6" y="775.6" width="9.0" height="3.6" fill="#e8f5fc" stroke="#3c3c3c" stroke-width="1"/>
<text x="830.2" y="772.7" text-anchor="middle" font-size="7.8" fill="#555">M</text>
<line x1="884.3" y1="737.1" x2="884.3" y2="755.3" stroke="#3c3c3c" stroke-width="1.2"/>
<line x1="884.3" y1="778.1" x2="884.3" y2="791.5" stroke="#3c3c3c" stroke-width="1.2"/>
<path d="M884.3,755.3 Q895,766.7 884.3,778.1" stroke="#444" stroke-width="1.0" fill="none"/>
<circle cx="884.3" cy="755.3" r="2" fill="#111"/>
<circle cx="884.3" cy="778.1" r="2" fill="#111"/>
<text x="872.3" y="769" text-anchor="middle" font-size="8" fill="#363636">ECB</text>
<line x1="830.1" y1="791.5" x2="884.3" y2="791.5" stroke="#3c3c3c" stroke-width="1.2"/>
<text x="824.3" y="696.3" text-anchor="end" font-size="8" fill="#363636">DK</text>
<text x="824.3" y="706" text-anchor="end" font-size="8" fill="#363636">BLU</text>
<text x="878.3" y="706" text-anchor="end" font-size="8" fill="#363636">BRN</text>
<text x="822.5" y="729.5" text-anchor="end" font-size="8" fill="#363636">B</text>
<text x="877" y="730.5" text-anchor="end" font-size="8" fill="#363636">A</text>
<text x="914" y="742" text-anchor="start" font-size="8" fill="#363636">RIGHT</text>
<text x="914" y="752" text-anchor="start" font-size="8" fill="#363636">REAR</text>
<text x="914" y="762" text-anchor="start" font-size="8" fill="#363636">WINDOW</text>
<text x="914" y="772" text-anchor="start" font-size="8" fill="#363636">MOTOR</text>
<text x="10.8" y="819" text-anchor="start" font-size="8" fill="#505050">186286</text>
</svg>
</body></html>
